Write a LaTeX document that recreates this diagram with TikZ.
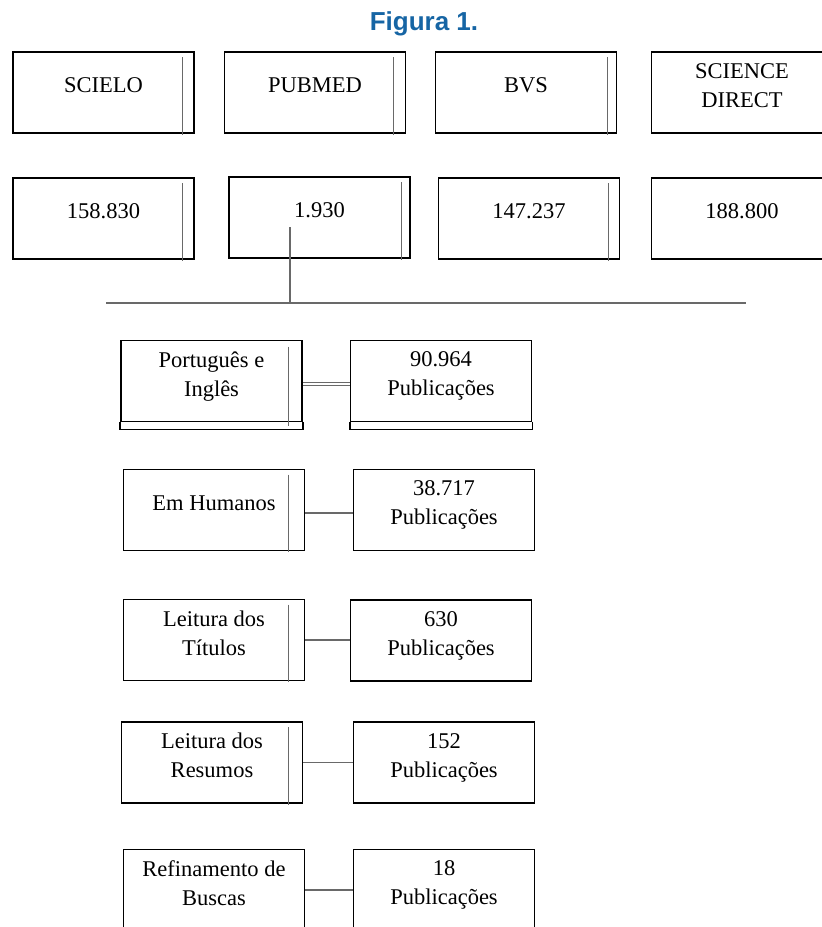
\documentclass[tikz,border=0pt]{standalone}
\usepackage{fontspec}
\setmainfont{Liberation Serif}
\newfontfamily\titlefont{Liberation Sans}
\usetikzlibrary{calc,positioning}
\definecolor{titleblue}{RGB}{22,101,164}
\definecolor{linkgray}{RGB}{105,105,105}
\newcommand{\innerbar}[2]{%
  \draw[sidebar] ($(#1.north east)+(-#2,6)$) -- ($(#1.south east)+(-#2,1)$);}

\begin{document}
\begin{tikzpicture}[x=1pt,y=-1pt,
    font=\fontsize{22.5}{29}\selectfont,
    frame/.style={draw=black,line width=1.8pt},
    box/.style={frame,minimum width=181pt,minimum height=81pt,
      inner sep=0pt,align=center,text depth=14pt},
    link/.style={draw=linkgray,line width=1.2pt},
    sidebar/.style={draw=linkgray,line width=1pt}]
    \useasboundingbox (0,0) rectangle (822,927);

    \node[font=\titlefont\bfseries\fontsize{26}{30}\selectfont,text=titleblue]
      (title) at (424,24) {Figura 1.};

    % bases
    \node[box] (scielo) at (103.5,92.5) {SCIELO};
    \node[box] (pubmed) at (315,92.5) {PUBMED};
    \node[box] (bvs) at (526,92.5) {BVS};
    \node[box] (sdirect) at (742,92.5) {SCIENCE\\DIRECT};
    \innerbar{scielo}{12}
    \innerbar{pubmed}{13}
    \innerbar{bvs}{10}

    % results
    \node[box] (nscielo) at (103.5,218.5) {158.830};
    \node[box] (npubmed) at (319.5,217.5) {1.930};
    \node[box] (nbvs) at (529,218.5) {147.237};
    \node[box] (nsdirect) at (742,218.5) {188.800};
    \innerbar{nscielo}{12}
    \innerbar{npubmed}{9}
    \innerbar{nbvs}{12}

    \coordinate (hleft) at (106,303);
    \coordinate (hright) at (746,303);
    \coordinate (drop) at (290,303);
    \draw[link] (hleft) -- (hright);
    \draw[link] ($(npubmed.center)+(-29.5,9.5)$) -- (drop);

    % filters
    \node[box] (lang) at (211.5,381) {Português e\\Inglês};
    \node[box] (nlang) at (441,381) {90.964\\Publicações};
    \draw[frame] (lang.south west) -- ++(0,7) -| (lang.south east);
    \draw[frame] (nlang.south west) -- ++(0,7) -| (nlang.south east);
    \draw[sidebar] ($(lang.north east)+(-14,7)$) -- ($(lang.south east)+(-14,4)$);
    \draw[link,line width=0.9pt] ([yshift=-1pt]lang.east) -- ([yshift=-1pt]nlang.west);
    \draw[link,line width=0.9pt] ([yshift=-4pt]lang.east) -- ([yshift=-4pt]nlang.west);

    \node[box] (human) at (214,510) {Em Humanos};
    \node[box] (nhuman) at (444,510) {38.717\\Publicações};
    \innerbar{human}{17}
    \draw[link] ([yshift=-3pt]human.east) -- ([yshift=-3pt]nhuman.west);

    \node[box] (titles) at (214,640) {Leitura dos\\Títulos};
    \node[box] (ntitles) at (441,640.5) {630\\Publicações};
    \innerbar{titles}{17}
    \draw[link] (titles.east) -- (titles.east -| ntitles.west);

    \node[box] (abstracts) at (212,762.5) {Leitura dos\\Resumos};
    \node[box] (nabstracts) at (444,762.5) {152\\Publicações};
    \innerbar{abstracts}{15}
    \draw[link] (abstracts.east) -- (nabstracts.west);

    \node[box] (refine) at (214,890) {Refinamento de\\Buscas};
    \node[box] (nrefine) at (444,890) {18\\Publicações};
    \draw[link] (refine.east) -- (nrefine.west);
  \end{tikzpicture}
\end{document}
